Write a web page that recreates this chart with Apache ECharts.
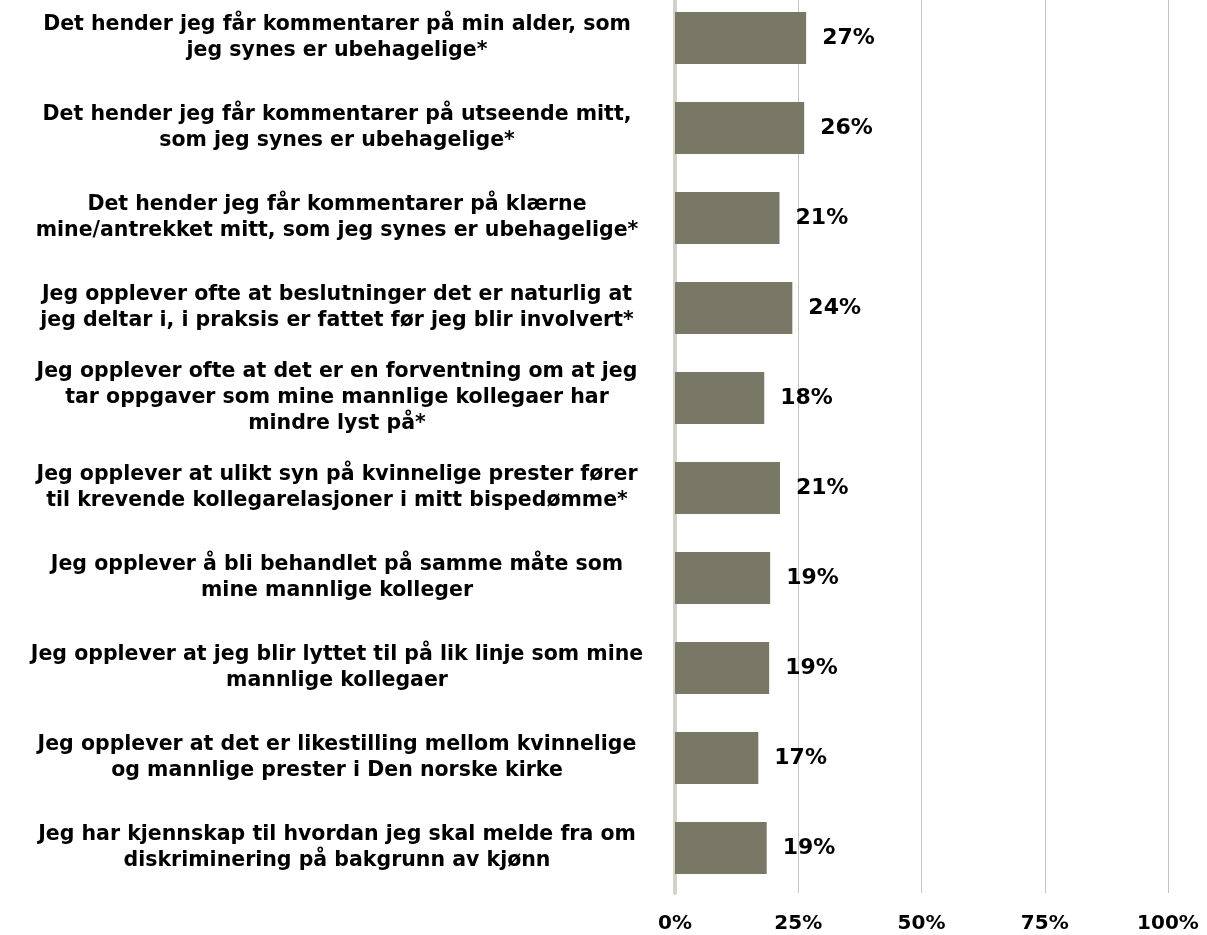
<!DOCTYPE html>
<html>
<head>
<meta charset="utf-8">
<script src="https://cdn.jsdelivr.net/npm/echarts@6/dist/echarts.min.js"></script>
<style>
	html, body { margin: 0; padding: 0; background: #fff; overflow: hidden; }
	#chart-box { position: absolute; left: 0; top: -7px; width: 1207px; height: 942px; }
</style>
</head>
<body>
<div id="chart-box"></div>
<script>
var categories = [
	"Det hender jeg får kommentarer på min alder, som\njeg synes er ubehagelige*",
	"Det hender jeg får kommentarer på utseende mitt,\nsom jeg synes er ubehagelige*",
	"Det hender jeg får kommentarer på klærne\nmine/antrekket mitt, som jeg synes er ubehagelige*",
	"Jeg opplever ofte at beslutninger det er naturlig at\njeg deltar i, i praksis er fattet før jeg blir involvert*",
	"Jeg opplever ofte at det er en forventning om at jeg\ntar oppgaver som mine mannlige kollegaer har\nmindre lyst på*",
	"Jeg opplever at ulikt syn på kvinnelige prester fører\ntil krevende kollegarelasjoner i mitt bispedømme*",
	"Jeg opplever å bli behandlet på samme måte som\nmine mannlige kolleger",
	"Jeg opplever at jeg blir lyttet til på lik linje som mine\nmannlige kollegaer",
	"Jeg opplever at det er likestilling mellom kvinnelige\nog mannlige prester i Den norske kirke",
	"Jeg har kjennskap til hvordan jeg skal melde fra om\ndiskriminering på bakgrunn av kjønn"
];
var values = [26.6, 26.2, 21.2, 23.8, 18.1, 21.3, 19.3, 19.1, 16.9, 18.6];

var chart = echarts.init(document.getElementById("chart-box"));
var option = {
	animation: false,
	grid: {
		top: 0,
		bottom: 42,
		left: 675,
		right: 39
	},
	xAxis: {
		type: "value",
		min: 0,
		max: 100,
		interval: 25,
		axisLine: { show: false },
		axisTick: { show: false },
		axisLabel: {
			margin: 21,
			color: "#000",
			fontFamily: "DejaVu Sans",
			fontWeight: "bold",
			fontSize: 20,
			formatter: "{value}%"
		},
		splitLine: {
			lineStyle: { color: "#c4c4c0", width: 1 }
		}
	},
	yAxis: {
		type: "category",
		inverse: true,
		data: categories,
		axisLine: {
			show: true,
			lineStyle: { color: "#d2d2ca", width: 4 }
		},
		axisTick: { show: false },
		axisLabel: {
			align: "center",
			margin: 338,
			color: "#000",
			fontFamily: "DejaVu Sans",
			fontWeight: "bold",
			fontSize: 20.5,
			lineHeight: 26,
			padding: [7, 0, 0, 0]
		}
	},
	series: [
		{
			type: "bar",
			data: values,
			barWidth: 52,
			itemStyle: { color: "#797766" },
			label: {
				show: true,
				position: "right",
				distance: 16,
				color: "#000",
				fontFamily: "DejaVu Sans",
				fontWeight: "bold",
				fontSize: 22,
				padding: [5, 0, 0, 0],
				formatter: function (p) {
					return Math.round(p.value) + "%";
				}
			}
		}
	]
};
chart.setOption(option);
</script>
</body>
</html>
